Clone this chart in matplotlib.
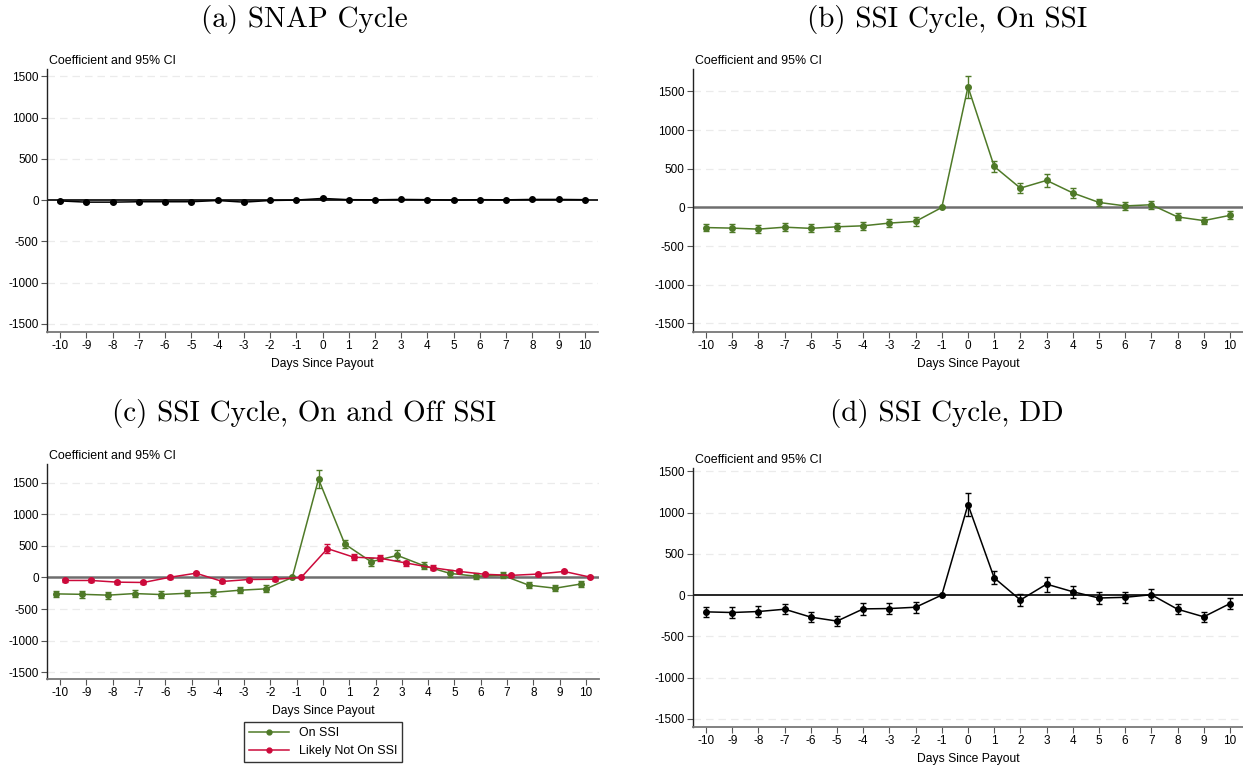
import matplotlib
matplotlib.use('Agg')
import matplotlib.pyplot as plt
from matplotlib.lines import Line2D

plt.rcParams['font.family'] = ['Liberation Sans', 'DejaVu Sans']
plt.rcParams['axes.unicode_minus'] = False

green = '#4f7a28'
red = '#cc0a3b'

days = [-10, -9, -8, -7, -6, -5, -4, -3, -2, -1, 0, 1, 2, 3, 4, 5, 6, 7, 8, 9, 10]

# (a) SNAP
snap_coef = [-10, -25, -25, -20, -20, -20, -5, -25, -5, 0, 20, 5, 3, 8, 5, 0, 5, 3, 8, 8, 5]
snap_ci = [10, 10, 10, 10, 10, 10, 10, 10, 10, 0, 12, 8, 8, 8, 8, 8, 8, 8, 8, 8, 8]

# (b)/(c) On SSI
on_ssi_coef = [-260, -267, -280, -255, -270, -250, -237, -202, -180, 0,
               1560, 530, 250, 350, 188, 65, 20, 35, -122, -170, -102]
on_ssi_ci = [50, 55, 55, 50, 50, 50, 55, 50, 55, 0,
             140, 70, 60, 80, 60, 50, 50, 50, 45, 45, 50]

# (c) Likely not on SSI
not_ssi_coef = [-47, -47, -74, -79, 3, 68, -63, -32, -28, 0,
                458, 322, 305, 229, 154, 97, 50, 34, 54, 96, 5]
not_ssi_ci = [30, 30, 25, 25, 25, 25, 25, 25, 25, 0,
              75, 45, 45, 40, 40, 30, 25, 25, 25, 25, 20]

# (d) DD
dd_coef = [-204, -212, -200, -172, -268, -316, -168, -164, -148, 0,
           1096, 208, -60, 132, 40, -36, -28, 4, -172, -264, -104]
dd_ci = [64, 64, 62, 62, 64, 64, 70, 68, 68, 0,
         136, 78, 70, 90, 75, 72, 68, 68, 60, 64, 65]

titles = ['(a) SNAP Cycle', '(b) SSI Cycle, On SSI',
          '(c) SSI Cycle, On and Off SSI', '(d) SSI Cycle, DD']

W, H = 1243, 767
fig = plt.figure(figsize=(W / 100, H / 100), dpi=100)


def px_axes(left, top, right, bottom):
    return fig.add_axes([left / W, 1 - bottom / H, (right - left) / W, (bottom - top) / H])


def style(ax, ylim, zero_color, zero_lw):
    ax.set_xlim(-10.5, 10.5)
    ax.set_ylim(*ylim)
    ax.set_xticks(days)
    ax.set_yticks([-1500, -1000, -500, 0, 500, 1000, 1500])
    for v in [-1500, -1000, -500, 500, 1000, 1500]:
        ax.axhline(v, color='#ebebeb', lw=0.9, ls=(0, (6, 4)), zorder=0)
    ax.axhline(0, color=zero_color, lw=zero_lw, zorder=1)
    for s in ['top', 'right']:
        ax.spines[s].set_visible(False)
    ax.spines['left'].set_color('#222222')
    ax.spines['bottom'].set_color('#777777')
    ax.spines['left'].set_linewidth(1.0)
    ax.spines['bottom'].set_linewidth(1.3)
    ax.tick_params(labelsize=8.5, length=4, width=0.8, color='#555555', pad=2)
    ax.set_xlabel('Days Since Payout', fontsize=8.7, labelpad=4)
    ax.annotate('Coefficient and 95% CI', xy=(0, 1), xycoords='axes fraction',
                xytext=(2, 8), textcoords='offset pixels', fontsize=8.9,
                ha='left', va='center')


def draw(ax, x, y, ci, color):
    ax.errorbar(x, y, yerr=ci, fmt='o-', color=color, ms=4, lw=1.1,
                ecolor=color, elinewidth=1, capsize=2, capthick=1, zorder=3)


ax_a = px_axes(47, 69, 598, 332)
style(ax_a, (-1600, 1590), 'black', 1.2)
draw(ax_a, days, snap_coef, snap_ci, 'black')

ax_b = px_axes(693, 69, 1243, 332)
style(ax_b, (-1610, 1790), '#6e6e6e', 1.8)
draw(ax_b, days, on_ssi_coef, on_ssi_ci, green)

ax_c = px_axes(47, 464, 599, 679)
style(ax_c, (-1610, 1800), '#6e6e6e', 1.8)
draw(ax_c, [d - 0.17 for d in days], on_ssi_coef, on_ssi_ci, green)
draw(ax_c, [d + 0.17 for d in days], not_ssi_coef, not_ssi_ci, red)
handles = [Line2D([0], [0], color=green, marker='o', ms=3.5, lw=1.1),
           Line2D([0], [0], color=red, marker='o', ms=3.5, lw=1.1)]
leg = ax_c.legend(handles, ['On SSI', 'Likely Not On SSI'], loc='upper center',
                  bbox_to_anchor=(0.5, -0.17), fontsize=8.9,
                  frameon=True, fancybox=False, edgecolor='black',
                  handlelength=3.2, borderpad=0.45, labelspacing=0.45)
leg.get_frame().set_linewidth(1.0)

ax_d = px_axes(693, 468, 1243, 727)
style(ax_d, (-1600, 1540), 'black', 1.2)
draw(ax_d, days, dd_coef, dd_ci, 'black')

title_pos = [(304, 20), (947, 20), (304, 413), (947, 413)]
for t, (tx, ty) in zip(titles, title_pos):
    fig.text(tx / W, 1 - ty / H, t, ha='center', va='center', fontsize=21,
             family=['cmr10', 'DejaVu Serif'])

fig.savefig('out.png', dpi=100)
